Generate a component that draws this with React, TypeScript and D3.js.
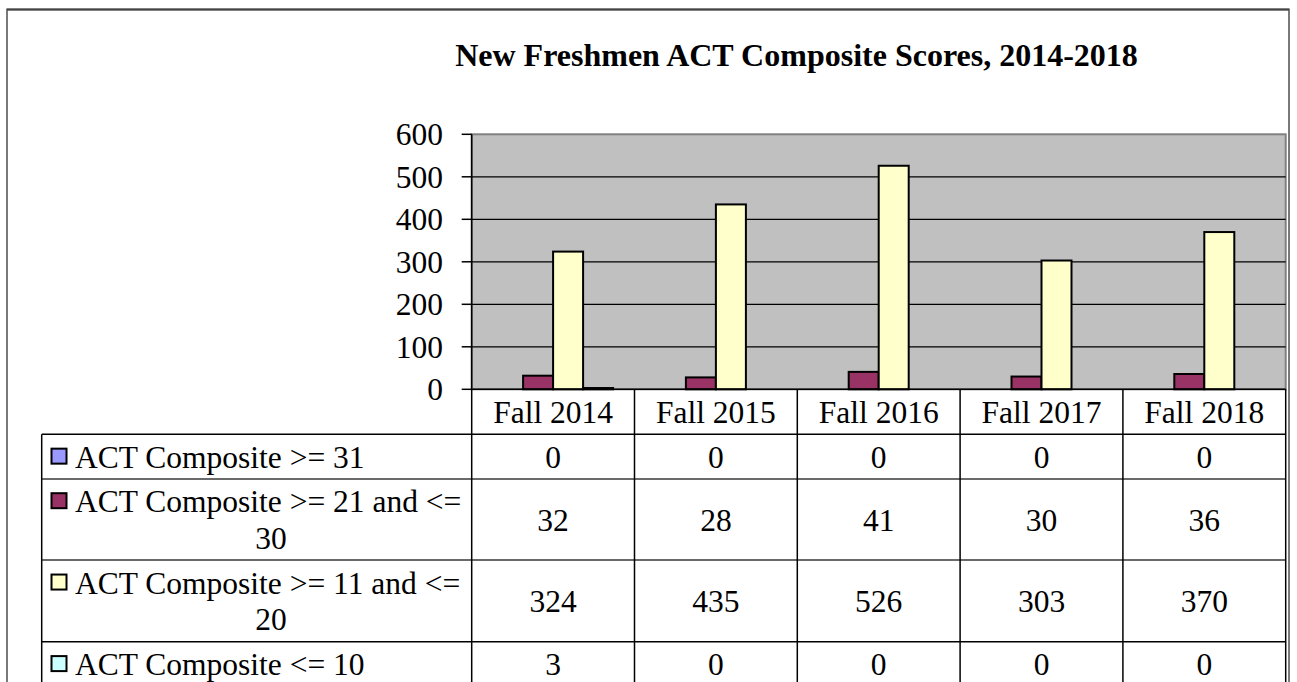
import React from 'react';
import * as d3 from 'd3';

// chart values
const categories = ['Fall 2014', 'Fall 2015', 'Fall 2016', 'Fall 2017', 'Fall 2018'];
const seriesLabels = [
  ['ACT Composite >= 31'],
  ['ACT Composite >= 21 and <=', '30'],
  ['ACT Composite >= 11 and <=', '20'],
  ['ACT Composite <= 10'],
];
const seriesColors = ['#9999FF', '#993366', '#FFFFCC', '#CCFFFF'];
const score31 = [0, 0, 0, 0, 0];
const score21to30 = [32, 28, 41, 30, 36];
const score11to20 = [324, 435, 526, 303, 370];
const score10 = [3, 0, 0, 0, 0];
const yTicks = [0, 100, 200, 300, 400, 500, 600];

const series = [score31, score21to30, score11to20, score10];

const W = 1297;
const H = 682;
const plot = { left: 471.7, right: 1285.7, top: 134.3, bottom: 389.3 };
const tableLeft = 41.7;
const rowLines = [434.3, 479, 560, 641.7, 686.5];
const font = '"Liberation Serif", "Times New Roman", serif';

export default function App() {
  const x = d3.scaleBand().domain(categories).range([plot.left, plot.right]);
  const groupWidth = 120;
  const xs = d3.scaleBand<number>().domain(d3.range(series.length)).range([0, groupWidth]);
  const y = d3.scaleLinear().domain([0, 600]).range([plot.bottom, plot.top]);
  const bw = x.bandwidth();

  return (
    <svg width={W} height={H} style={{ position: 'absolute', left: 0, top: 0, background: '#fff' }} fontFamily={font}>
      {/* outer frame */}
      <rect x={7} y={9.5} width={1282} height={700} fill="#fff" stroke="#7a7a7a" strokeWidth={2} />
      <line x1={7} x2={1289} y1={9.5} y2={9.5} stroke="#444" strokeWidth={2} />

      <text x={796.5} y={66} textAnchor="middle" fontSize={32} fontWeight="bold">
        New Freshmen ACT Composite Scores, 2014-2018
      </text>

      {/* plot area */}
      <rect x={plot.left} y={plot.top} width={plot.right - plot.left} height={plot.bottom - plot.top}
        fill="#C0C0C0" stroke="#808080" strokeWidth={2} />
      {yTicks.slice(1, -1).map(t => (
        <line key={t} x1={plot.left} x2={plot.right} y1={y(t)} y2={y(t)} stroke="#000" strokeWidth={1.2} />
      ))}

      {/* bars */}
      {categories.map((c, ci) => (
        <g key={c} transform={`translate(${(x(c) as number) + (bw - groupWidth) / 2},0)`}>
          {series.map((s, si) => (
            <rect key={si} x={xs(si)} y={y(s[ci])} width={xs.bandwidth()}
              height={y(0) - y(s[ci])} fill={seriesColors[si]} stroke="#000" strokeWidth={2} />
          ))}
        </g>
      ))}

      {/* y axis */}
      <line x1={plot.left} x2={plot.left} y1={plot.top} y2={plot.bottom} stroke="#000" strokeWidth={1.5} />
      {yTicks.map(t => (
        <g key={t}>
          <line x1={plot.left - 10} x2={plot.left} y1={y(t)} y2={y(t)} stroke="#000" strokeWidth={1.5} />
          <text x={443} y={y(t)} dy="0.35em" textAnchor="end" fontSize={31.5}>{t}</text>
        </g>
      ))}

      {/* data table */}
      <line x1={plot.left} x2={plot.right} y1={plot.bottom} y2={plot.bottom} stroke="#000" strokeWidth={1.5} />
      {rowLines.slice(0, 4).map((ry, i) => (
        <line key={ry} x1={tableLeft} x2={plot.right} y1={ry} y2={ry}
          stroke={i === 1 || i === 2 ? '#6a6a6a' : '#000'} strokeWidth={i === 1 || i === 2 ? 2 : 1.5} />
      ))}
      <line x1={tableLeft} x2={tableLeft} y1={rowLines[0]} y2={H} stroke="#000" strokeWidth={1.5} />
      {categories.map(c => (
        <line key={c} x1={x(c)} x2={x(c)} y1={plot.bottom} y2={H} stroke="#000" strokeWidth={1.5} />
      ))}
      <line x1={plot.right} x2={plot.right} y1={plot.bottom} y2={H} stroke="#000" strokeWidth={1.5} />

      {categories.map(c => (
        <text key={c} x={(x(c) as number) + bw / 2} y={(plot.bottom + rowLines[0]) / 2} dy="0.35em"
          textAnchor="middle" fontSize={31.5}>{c}</text>
      ))}

      {series.map((s, si) => {
        const top = rowLines[si];
        const bot = rowLines[si + 1];
        const mid = (top + bot) / 2;
        const lines = seriesLabels[si];
        const firstY = mid - ((lines.length - 1) * 36.6) / 2;
        return (
          <g key={si}>
            <rect x={51.5} y={firstY - 8} width={15} height={15} fill={seriesColors[si]} stroke="#000" strokeWidth={2} />
            {lines.map((ln, li) => (
              <text key={li} x={li === 0 ? 75 : 271} y={firstY + li * 36.6} dy="0.35em"
                textAnchor={li === 0 ? 'start' : 'middle'} fontSize={31.5}>{ln}</text>
            ))}
            {s.map((v, ci) => (
              <text key={ci} x={(x(categories[ci]) as number) + bw / 2} y={mid} dy="0.35em"
                textAnchor="middle" fontSize={31.5}>{v}</text>
            ))}
          </g>
        );
      })}
    </svg>
  );
}
